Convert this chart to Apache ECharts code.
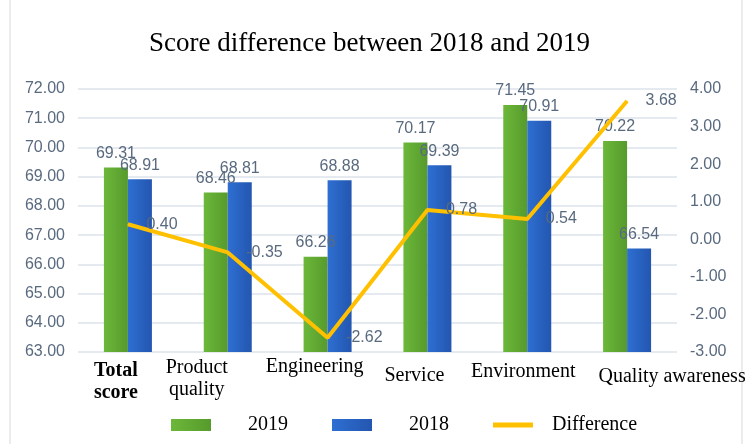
<!DOCTYPE html>
<html>
<head>
  <meta charset="utf-8">
  <title>Score difference</title>
  <script src="https://cdn.jsdelivr.net/npm/echarts@6/dist/echarts.min.js"></script>
</head>
<body style="margin:0">
<div id="main" style="width:754px;height:444px"></div>
<script type="text/javascript">
  // data
  var categories = ['Total score', 'Product quality', 'Engineering', 'Service', 'Environment', 'Quality awareness'];
  var score2019 = [69.31, 68.46, 66.26, 70.17, 71.45, 70.22];
  var score2018 = [68.91, 68.81, 68.88, 69.39, 70.91, 66.54];
  var difference = [0.40, -0.35, -2.62, 0.78, 0.54, 3.68];
  var leftTicks = [63, 72, 1];
  var rightTicks = [-3, 4, 1];

  // label nudges so the category names sit like in the original
  var labelPad = [[6, 24, 0, 0], [3, 62, 0, 0], [2, 26, 0, 0], [11, 26, 0, 0], [7, 8, 0, 0], [12, 0, 0, 90]];

  var myChart = echarts.init(document.getElementById('main'));

  var axisText = { color: '#596a7f', fontSize: 16, fontFamily: 'Liberation Sans' };
  var serif = 'Liberation Serif';

  function fmt(v) { return Number(v).toFixed(2); }

  var xData = categories.map(function (c, i) {
    return {
      value: c,
      textStyle: { padding: labelPad[i], fontWeight: i === 0 ? 'bold' : 'normal' }
    };
  });

  var option = {
    animation: false,
    title: {
      text: 'Score difference between 2018 and 2019',
      left: 144,
      top: 25,
      textStyle: { fontFamily: serif, fontSize: 27, fontWeight: 'normal', color: '#000' }
    },
    graphic: [{
      type: 'rect',
      shape: { x: 10, y: -2, width: 732, height: 450 },
      style: { fill: 'none', stroke: '#d9d9d9', lineWidth: 1 },
      silent: true
    }],
    legend: {
      left: 166,
      top: 410,
      itemWidth: 40,
      itemHeight: 12,
      itemGap: 44,
      textStyle: { fontFamily: serif, fontSize: 20, color: '#000', padding: [0, 0, 0, 32] },
      data: [
        { name: '2019', icon: 'rect' },
        { name: '2018', icon: 'rect' },
        { name: 'Difference', icon: 'path://M0,0H32V4H0Z', textStyle: { padding: [0, 0, 0, 14] } }
      ]
    },
    grid: { left: 78, right: 77, top: 89, bottom: 92 },
    xAxis: {
      type: 'category',
      data: xData,
      axisLine: { show: false },
      axisTick: { show: false },
      axisLabel: {
        interval: 0,
        margin: 2,
        fontFamily: serif,
        fontSize: 20,
        color: '#000',
        lineHeight: 22,
        formatter: function (v) {
          if (v === 'Total score') return 'Total\nscore';
          if (v === 'Product quality') return 'Product\nquality';
          return v;
        }
      }
    },
    yAxis: [{
      type: 'value',
      min: leftTicks[0],
      max: leftTicks[1],
      interval: leftTicks[2],
      axisLine: { show: false },
      axisTick: { show: false },
      axisLabel: Object.assign({ margin: 13, formatter: fmt }, axisText),
      splitLine: { lineStyle: { color: '#dde3ec', width: 1.5 } }
    }, {
      type: 'value',
      min: rightTicks[0],
      max: rightTicks[1],
      interval: rightTicks[2],
      axisLine: { show: false },
      axisTick: { show: false },
      axisLabel: Object.assign({ margin: 13, formatter: fmt }, axisText),
      splitLine: { show: false }
    }],
    series: [{
      name: '2019',
      type: 'bar',
      data: score2019,
      barWidth: 24,
      barGap: '0%',
      itemStyle: {
        color: new echarts.graphic.LinearGradient(0, 0, 1, 0, [
          { offset: 0, color: '#6cb83a' },
          { offset: 1, color: '#569a2c' }
        ])
      },
      label: { show: true, position: 'top', distance: 6, formatter: function (p) { return fmt(p.value); }, color: '#596a7f', fontSize: 16, fontFamily: 'Liberation Sans' }
    }, {
      name: '2018',
      type: 'bar',
      data: score2018,
      barWidth: 24,
      itemStyle: {
        color: new echarts.graphic.LinearGradient(0, 0, 1, 0, [
          { offset: 0, color: '#2e6fd2' },
          { offset: 1, color: '#2356b0' }
        ])
      },
      label: { show: true, position: 'top', distance: 6, formatter: function (p) { return fmt(p.value); }, color: '#596a7f', fontSize: 16, fontFamily: 'Liberation Sans' }
    }, {
      name: 'Difference',
      type: 'line',
      yAxisIndex: 1,
      data: difference,
      symbol: 'circle',
      symbolSize: 1,
      z: 5,
      lineStyle: { color: '#ffc000', width: 4 },
      itemStyle: { color: '#ffc000' },
      label: { show: true, position: 'right', distance: 18, formatter: function (p) { return fmt(p.value); }, color: '#596a7f', fontSize: 16, fontFamily: 'Liberation Sans' }
    }]
  };

  myChart.setOption(option);
</script>
</body>
</html>
